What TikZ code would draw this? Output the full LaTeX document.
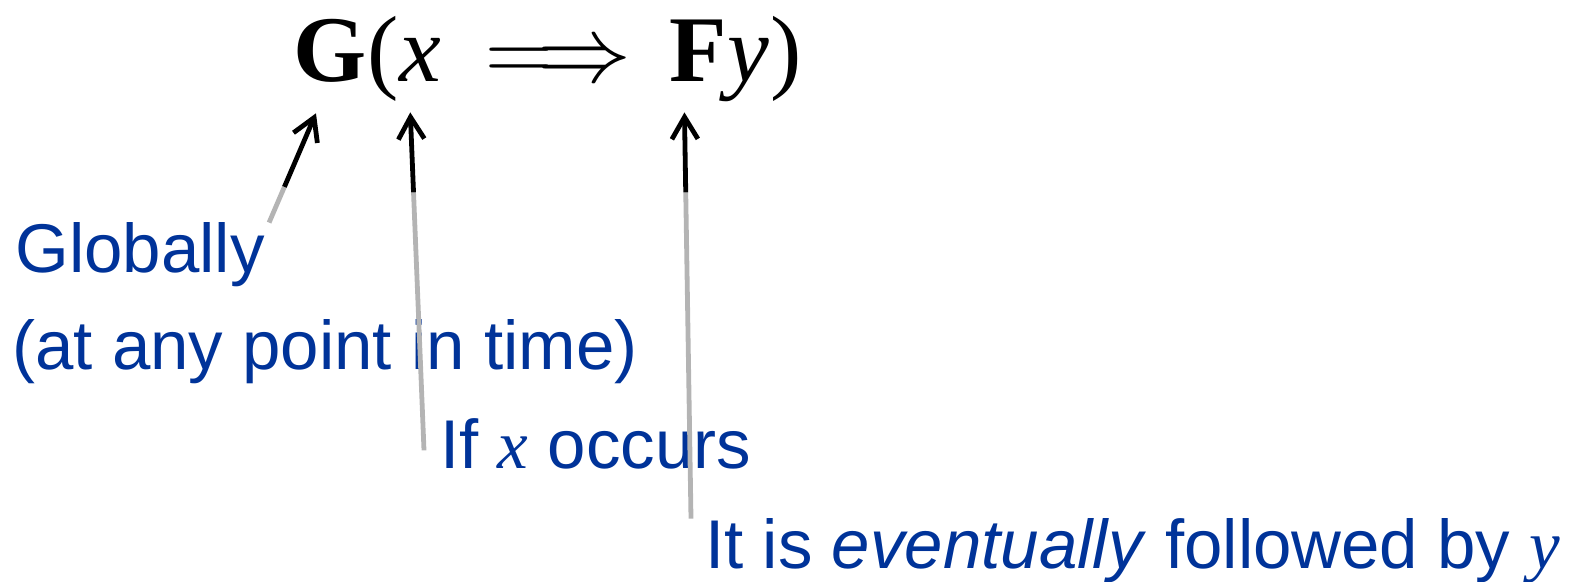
\RequirePackage{fix-cm}
\documentclass[tikz,border=0pt]{standalone}
\usepackage{fontspec}
\setmainfont{Liberation Sans}
\newfontfamily\tmsfont{Liberation Serif}
\usetikzlibrary{arrows.meta,calc,positioning}
\definecolor{ltlblue}{HTML}{003399}
\definecolor{ltlgray}{HTML}{B4B4B4}

\begin{document}
\begin{tikzpicture}[
    x=0.5pt,y=-0.5pt,
    fml/.style    = {inner sep=0pt, anchor=base west,
                     font=\fontsize{47}{56}\selectfont\tmsfont},
    lab/.style    = {inner sep=0pt, anchor=base west, text=ltlblue,
                     font=\fontsize{34.5}{42}\selectfont},
    lead/.style   = {ltlgray, line width=2.4pt},
    tipseg/.style = {-{Straight Barb[length=11pt,width=13pt]}, black,
                     line width=2.4pt},
  ]
  \useasboundingbox (0,0) rectangle (1576,582);

  % the formula, piece by piece
  \node[fml] (G)   at (293,82)         {\bfseries G};
  \node[fml] (lp)  at (G.base east)    {(};
  \node[fml] (x)   at (lp.base east)   {\itshape x};
  \node[fml] (imp) at ([xshift=22pt]x.base east) {$\Longrightarrow$};
  \node[fml] (F)   at ([xshift=18.5pt]imp.base east) {\bfseries F};
  \node[fml] (y)   at (F.base east)    {\itshape y};
  \node[fml] (rp)  at (y.base east)    {)};

  % the labels
  \node[lab] (glob) at (15,273)  {Globally};
  \node[lab] (when) at (12,370)  {(at any point in time)};
  \node[lab] (ifx)  at (440,469) {If {\tmsfont\itshape x} occurs};
  \node[lab] (ev)   at (705,569)
       {It is \textit{eventually} followed by {\tmsfont\itshape y}};

  \coordinate (sG) at ([xshift=2pt]glob.north east);
  \coordinate (sx) at ([xshift=-8pt,yshift=-3pt]ifx.west);
  \coordinate (sF) at ([xshift=-7pt]ev.north west);
  \coordinate (tG) at ([xshift=-7pt,yshift=-15pt]G.south);
  \coordinate (tx) at ([xshift=-5pt,yshift=-15pt]x.south);
  \coordinate (tF) at ([xshift=-7pt,yshift=-15pt]F.south);

  \foreach \s/\t in {sG/tG,sx/tx,sF/tF} {
    \draw[lead] (\s) -- ($(\t)!40pt!(\s)$);
    \draw[tipseg] ($(\t)!40pt!(\s)$) -- (\t);
  }

\end{tikzpicture}
\end{document}
